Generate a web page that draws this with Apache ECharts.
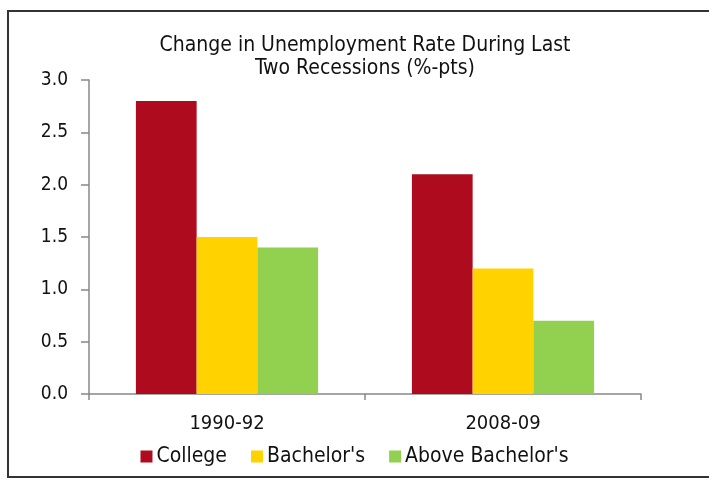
<!DOCTYPE html>
<html>
<head>
<meta charset="utf-8">
<script src="https://cdn.jsdelivr.net/npm/echarts@6/dist/echarts.min.js"></script>
<style>html,body{margin:0;padding:0;background:#fff;}#c{width:709px;height:479px;}</style>
</head>
<body>
<div id="c"></div>
<script>
var categories = ['1990-92', '2008-09'];
var seriesNames = ['College', "Bachelor's", "Above Bachelor's"];
var college = [2.8, 2.1];
var bachelors = [1.5, 1.2];
var aboveBachelors = [1.4, 0.7];
var colors = ['#AE0B1E', '#FFD200', '#92D050'];
var FONT = '"DejaVu Sans Condensed", "DejaVu Sans", sans-serif';

var chart = echarts.init(document.getElementById('c'));
var values = [college, bachelors, aboveBachelors];
chart.setOption({
  animation: false,
  textStyle: { fontFamily: FONT },
  title: {
    text: 'Change in Unemployment Rate During Last\nTwo Recessions (%-pts)',
    left: 365, top: 34, textAlign: 'center', padding: 0,
    textStyle: { fontFamily: FONT, fontSize: 21, fontWeight: 'normal', color: '#111', lineHeight: 23 }
  },
  graphic: [{
    type: 'rect', silent: true,
    shape: { x: 8, y: 11, width: 720, height: 466 },
    style: { fill: 'none', stroke: '#333', lineWidth: 2 }
  }],
  legend: {
    left: 'center', top: 446, padding: 0,
    icon: 'rect', itemWidth: 12, itemHeight: 12, itemGap: 24,
    textStyle: { fontFamily: FONT, fontSize: 21, color: '#111', padding: [0, 0, 0, -1] },
    data: seriesNames
  },
  grid: { left: 89, right: 68, top: 80, bottom: 85 },
  xAxis: {
    type: 'category', data: categories,
    axisLine: { lineStyle: { color: '#888', width: 1.5 } },
    axisTick: { show: true, length: 6, lineStyle: { color: '#888', width: 1.5 } },
    axisLabel: { fontFamily: FONT, fontSize: 20, color: '#111', margin: 20 }
  },
  yAxis: {
    type: 'value', min: 0, max: 3, interval: 0.5,
    axisLine: { show: true, lineStyle: { color: '#888', width: 1.5 } },
    axisTick: { show: true, length: 8, lineStyle: { color: '#888', width: 1.5 } },
    splitLine: { show: false },
    axisLabel: { fontFamily: FONT, fontSize: 19, color: '#111', margin: 21,
      formatter: function (v) { return v.toFixed(1); } }
  },
  series: seriesNames.map(function (n, i) {
    return {
      name: n, type: 'bar', data: values[i],
      itemStyle: { color: colors[i] },
      barGap: '0%', barCategoryGap: '34%'
    };
  })
});
</script>
</body>
</html>
